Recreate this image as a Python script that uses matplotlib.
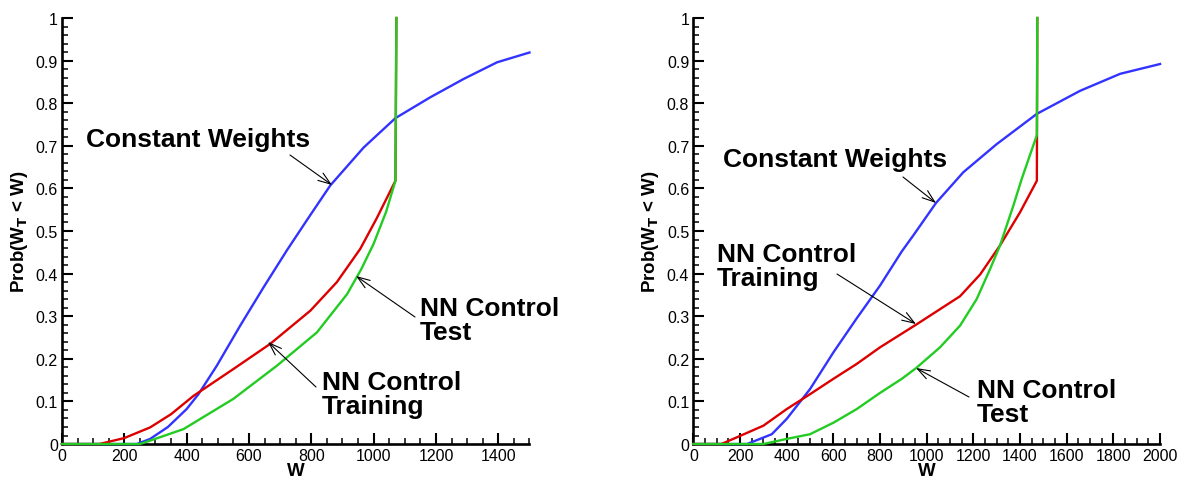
import matplotlib
matplotlib.use('Agg')
import matplotlib.pyplot as plt
from matplotlib.patches import FancyArrowPatch
from matplotlib.ticker import MultipleLocator, FormatStrFormatter

plt.rcParams['font.family'] = ['Liberation Sans', 'DejaVu Sans']

# =============================================================================
# Data
# =============================================================================

# left panel
w_const_l = [0, 240, 283, 340, 400, 438, 497, 572, 647, 722, 790, 861, 968, 1070, 1182, 1289, 1396, 1500]
p_const_l = [0, 0, 0.012, 0.04, 0.082, 0.117, 0.184, 0.278, 0.368, 0.455, 0.53, 0.607, 0.696, 0.765, 0.814, 0.857, 0.896, 0.919]

w_train_l = [0, 120, 200, 283, 350, 422, 550, 668, 797, 882, 957, 1010, 1070, 1073]
p_train_l = [0, 0, 0.014, 0.039, 0.07, 0.113, 0.176, 0.235, 0.313, 0.38, 0.458, 0.53, 0.618, 1.0]

w_test_l = [0, 250, 283, 390, 550, 690, 818, 915, 960, 1000, 1040, 1070, 1073]
p_test_l = [0, 0, 0.008, 0.035, 0.106, 0.184, 0.262, 0.352, 0.41, 0.47, 0.545, 0.618, 1.0]

# right panel
w_const_r = [0, 230, 336, 400, 500, 600, 700, 800, 893, 943, 1040, 1157, 1300, 1472, 1657, 1829, 2000]
p_const_r = [0, 0, 0.023, 0.059, 0.129, 0.215, 0.295, 0.372, 0.452, 0.49, 0.566, 0.638, 0.704, 0.775, 0.829, 0.869, 0.892]

w_train_r = [0, 120, 200, 300, 400, 500, 600, 700, 800, 954, 1143, 1229, 1314, 1400, 1472, 1474]
p_train_r = [0, 0, 0.019, 0.043, 0.082, 0.117, 0.153, 0.188, 0.227, 0.28, 0.347, 0.398, 0.466, 0.544, 0.618, 1.0]

w_test_r = [0, 300, 400, 500, 600, 700, 800, 893, 954, 1057, 1143, 1214, 1271, 1314, 1371, 1407, 1472, 1474]
p_test_r = [0, 0, 0.012, 0.023, 0.05, 0.082, 0.12, 0.153, 0.178, 0.227, 0.278, 0.34, 0.41, 0.466, 0.559, 0.622, 0.725, 1.0]

BLUE = '#3333ff'
RED = '#dd0000'
GREEN = '#22cc22'

# =============================================================================
# Helpers
# =============================================================================

def style_axes(ax, xmax):
    ax.set_xlim(0, xmax)
    ax.set_ylim(0, 1)
    for side in ('top', 'right'):
        ax.spines[side].set_visible(False)
    for side in ('left', 'bottom'):
        ax.spines[side].set_linewidth(1.9)
    ax.xaxis.set_major_locator(MultipleLocator(200))
    ax.xaxis.set_minor_locator(MultipleLocator(50))
    ax.yaxis.set_major_locator(MultipleLocator(0.1))
    ax.yaxis.set_minor_locator(MultipleLocator(0.02))
    ax.yaxis.set_major_formatter(FormatStrFormatter('%g'))
    ax.tick_params(which='major', direction='in', length=8, width=1.5, labelsize=11.5, pad=3)
    ax.tick_params(which='minor', direction='in', length=4.5, width=1.1)
    ax.set_xlabel('W', fontsize=13.5, fontweight='bold', labelpad=-1)
    ax.set_ylabel(r'Prob(W$_\mathbf{T}$ < W)', fontsize=13.5, fontweight='bold', labelpad=4)

def label(fig, text, x, y):
    # x, y in reference pixels, y measured from the top
    fig.text(x / 1180, 1 - y / 481, text, fontsize=19, fontweight='bold',
             ha='left', va='center', linespacing=0.95)

def arrow(fig, xy, xytext):
    fig.patches.append(FancyArrowPatch(
        (xytext[0] / 1180, 1 - xytext[1] / 481), (xy[0] / 1180, 1 - xy[1] / 481),
        transform=fig.transFigure, arrowstyle='->,head_length=9,head_width=3.2',
        color='black', lw=0.8, shrinkA=0, shrinkB=0))

# =============================================================================
# Figure
# =============================================================================

fig = plt.figure(figsize=(11.8, 4.81), dpi=100)
ax1 = fig.add_axes([0.0525, 0.0748, 0.3962, 0.8857])
ax2 = fig.add_axes([0.5876, 0.0748, 0.3955, 0.8857])

for ax, xmax, data in [
    (ax1, 1500, [(w_const_l, p_const_l, BLUE), (w_train_l, p_train_l, RED), (w_test_l, p_test_l, GREEN)]),
    (ax2, 2000, [(w_const_r, p_const_r, BLUE), (w_train_r, p_train_r, RED), (w_test_r, p_test_r, GREEN)]),
]:
    for w, p, c in data:
        ax.plot(w, p, color=c, lw=1.7, clip_on=False, zorder=3)
    style_axes(ax, xmax)

label(fig, 'Constant Weights', 86, 140)
arrow(fig, (332, 186), (290, 156))
label(fig, 'NN Control\nTest', 420, 321)
arrow(fig, (356, 277), (415, 318))
label(fig, 'NN Control\nTraining', 322, 395)
arrow(fig, (268, 343), (316, 388))

label(fig, 'Constant Weights', 723, 160)
arrow(fig, (936, 204), (903, 178))
label(fig, 'NN Control\nTraining', 717, 267)
arrow(fig, (916, 325), (837, 275))
label(fig, 'NN Control\nTest', 977, 403)
arrow(fig, (916, 369), (969, 398))

fig.savefig('out.png', dpi=100)
